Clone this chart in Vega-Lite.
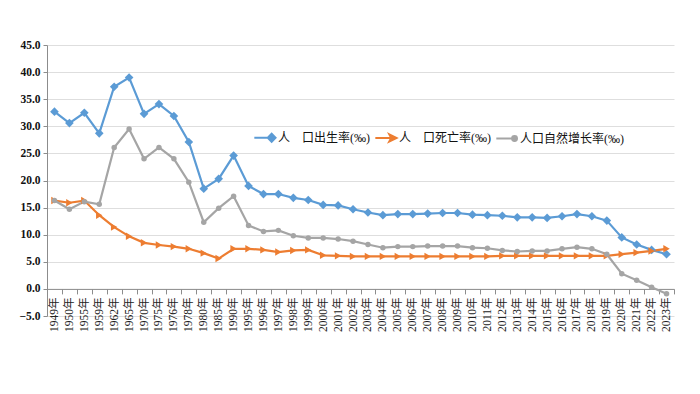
{
  "$schema": "https://vega.github.io/schema/vega-lite/v6.json",
  "autosize": {"type": "none"},
  "width": 627,
  "height": 271,
  "padding": {"left": 47, "top": 45, "right": 26, "bottom": 78},
  "background": "white",
  "config": {"view": {"stroke": null}},
  "data": {"values": [
    {"year": "1949年", "b": 32.7, "d": 16.3, "n": 16.3},
    {"year": "1950年", "b": 30.6, "d": 15.9, "n": 14.7},
    {"year": "1955年", "b": 32.5, "d": 16.3, "n": 16.1},
    {"year": "1959年", "b": 28.7, "d": 13.6, "n": 15.6},
    {"year": "1962年", "b": 37.3, "d": 11.4, "n": 26.1},
    {"year": "1965年", "b": 39.0, "d": 9.7, "n": 29.5},
    {"year": "1970年", "b": 32.3, "d": 8.5, "n": 24.0},
    {"year": "1975年", "b": 34.1, "d": 8.1, "n": 26.1},
    {"year": "1976年", "b": 31.9, "d": 7.8, "n": 24.0},
    {"year": "1978年", "b": 27.1, "d": 7.4, "n": 19.7},
    {"year": "1980年", "b": 18.5, "d": 6.6, "n": 12.3},
    {"year": "1985年", "b": 20.3, "d": 5.6, "n": 14.9},
    {"year": "1990年", "b": 24.6, "d": 7.4, "n": 17.1},
    {"year": "1995年", "b": 19.0, "d": 7.4, "n": 11.7},
    {"year": "1996年", "b": 17.5, "d": 7.2, "n": 10.6},
    {"year": "1997年", "b": 17.5, "d": 6.8, "n": 10.8},
    {"year": "1998年", "b": 16.8, "d": 7.1, "n": 9.8},
    {"year": "1999年", "b": 16.4, "d": 7.2, "n": 9.4},
    {"year": "2000年", "b": 15.5, "d": 6.2, "n": 9.4},
    {"year": "2001年", "b": 15.4, "d": 6.1, "n": 9.2},
    {"year": "2002年", "b": 14.7, "d": 6.0, "n": 8.8},
    {"year": "2003年", "b": 14.1, "d": 6.0, "n": 8.2},
    {"year": "2004年", "b": 13.6, "d": 6.0, "n": 7.6},
    {"year": "2005年", "b": 13.8, "d": 6.0, "n": 7.8},
    {"year": "2006年", "b": 13.8, "d": 6.0, "n": 7.8},
    {"year": "2007年", "b": 13.9, "d": 6.0, "n": 7.9},
    {"year": "2008年", "b": 14.0, "d": 6.0, "n": 7.9},
    {"year": "2009年", "b": 14.0, "d": 6.0, "n": 7.9},
    {"year": "2010年", "b": 13.7, "d": 6.0, "n": 7.6},
    {"year": "2011年", "b": 13.6, "d": 6.0, "n": 7.5},
    {"year": "2012年", "b": 13.5, "d": 6.1, "n": 7.1},
    {"year": "2013年", "b": 13.2, "d": 6.1, "n": 6.9},
    {"year": "2014年", "b": 13.2, "d": 6.1, "n": 7.0},
    {"year": "2015年", "b": 13.1, "d": 6.1, "n": 7.0},
    {"year": "2016年", "b": 13.4, "d": 6.1, "n": 7.4},
    {"year": "2017年", "b": 13.8, "d": 6.1, "n": 7.7},
    {"year": "2018年", "b": 13.4, "d": 6.1, "n": 7.4},
    {"year": "2019年", "b": 12.6, "d": 6.1, "n": 6.4},
    {"year": "2020年", "b": 9.5, "d": 6.4, "n": 2.8},
    {"year": "2021年", "b": 8.2, "d": 6.7, "n": 1.6},
    {"year": "2022年", "b": 7.2, "d": 7.0, "n": 0.3},
    {"year": "2023年", "b": 6.4, "d": 7.4, "n": -0.9}
  ]},
  "transform": [{"fold": ["b", "d", "n"], "as": ["series", "value"]}],
  "encoding": {
    "x": {
      "field": "year", "type": "nominal", "sort": null,
      "scale": {"type": "band", "paddingInner": 0, "paddingOuter": 0},
      "axis": {
        "title": null, "labelAngle": -90, "offset": -27.1, "tickBand": "extent",
        "domainColor": "#8c8c8c", "tickColor": "#8c8c8c", "tickSize": 5,
        "labelFont": "Liberation Serif, Noto Sans CJK SC", "labelFontSize": 11.5,
        "labelColor": "#222", "labelPadding": 3, "grid": false
      }
    },
    "y": {
      "field": "value", "type": "quantitative",
      "scale": {"domain": [-5, 45], "nice": false, "zero": false},
      "axis": {
        "title": null, "values": [-5, 0, 5, 10, 15, 20, 25, 30, 35, 40, 45], "format": ".1f",
        "grid": true, "gridColor": "#dedede", "domainColor": "#8c8c8c", "tickColor": "#8c8c8c", "tickSize": 4,
        "labelFont": "Liberation Serif", "labelFontSize": 11.5, "labelFontWeight": "bold", "labelColor": "#111", "labelPadding": 3
      }
    },
    "color": {
      "field": "series", "type": "nominal",
      "scale": {"domain": ["b", "d", "n"], "range": ["#5b9bd5", "#ed7d31", "#a5a5a5"]}
    }
  },
  "layer": [
    {
      "mark": {"type": "line", "strokeWidth": 2.2},
      "encoding": {
        "color": {
          "field": "series", "type": "nominal",
          "legend": {
            "title": null, "orient": "none", "legendX": 206, "legendY": 80, "direction": "horizontal",
            "labelExpr": "datum.value == 'b' ? '人　口出生率(‰)' : datum.value == 'd' ? '人　口死亡率(‰)' : '人口自然增长率(‰)'",
            "labelFont": "Liberation Serif, Noto Sans CJK SC", "labelFontSize": 12, "labelColor": "#111",
            "symbolSize": 500, "symbolStrokeWidth": 2, "columnPadding": 1, "labelOffset": 0,
            "encode": {"symbols": {"update": {
              "shape": {"signal": "datum.value == 'b' ? 'M-1,0H0.5M0.55,-0.36L0.9,0L0.55,0.36L0.2,0Z' : datum.value == 'd' ? 'M-1,0H0.5M0.25,-0.32L0.9,0L0.25,0.32L0.42,0Z' : 'M-1,0H0.5M0.85,0A0.22,0.22 0 1,1 0.41,0A0.22,0.22 0 1,1 0.85,0Z'"},
              "fill": {"signal": "scale('color', datum.value)"},
              "stroke": {"signal": "scale('color', datum.value)"},
              "strokeWidth": {"value": 2}
            }}}
          }
        }
      }
    },
    {
      "transform": [{"filter": "datum.series == 'b'"}],
      "mark": {"type": "point", "filled": true, "opacity": 1, "shape": "diamond", "size": 75},
      "encoding": {"color": {"field": "series", "type": "nominal", "legend": null}}
    },
    {
      "transform": [{"filter": "datum.series == 'd'"}],
      "mark": {"type": "point", "filled": true, "opacity": 1, "shape": "triangle-right", "size": 55},
      "encoding": {"color": {"field": "series", "type": "nominal", "legend": null}}
    },
    {
      "transform": [{"filter": "datum.series == 'n'"}],
      "mark": {"type": "point", "filled": true, "opacity": 1, "shape": "circle", "size": 30},
      "encoding": {"color": {"field": "series", "type": "nominal", "legend": null}}
    }
  ]
}
